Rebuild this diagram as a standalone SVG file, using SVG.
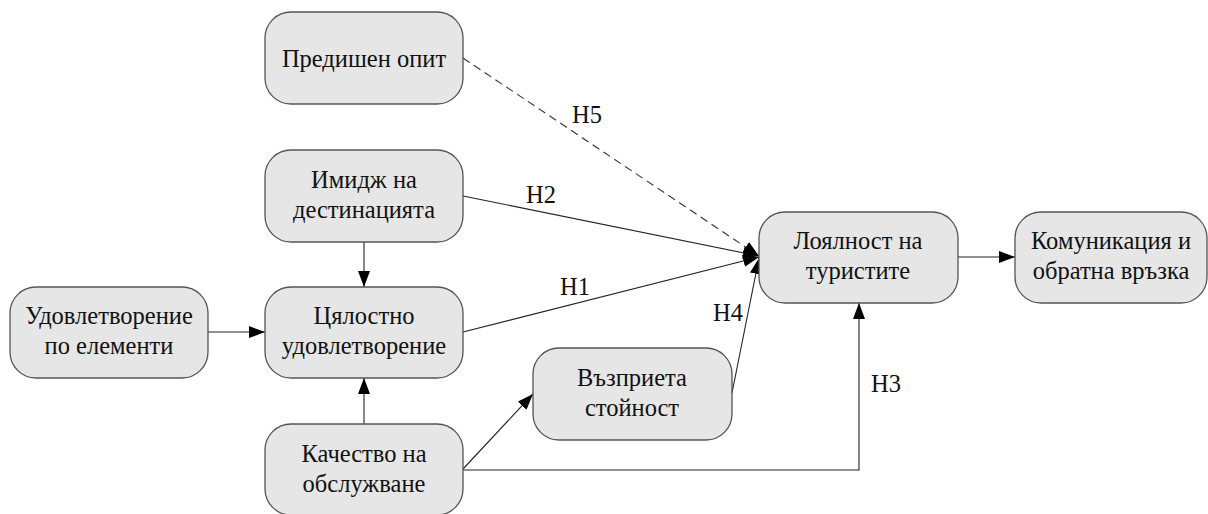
<svg xmlns="http://www.w3.org/2000/svg" width="1208" height="514" viewBox="0 0 1208 514">
<style>
.box{fill:#e6e6e6;stroke:#555;stroke-width:1.3}
.t{font-family:'Liberation Serif','DejaVu Serif','Times New Roman',serif;font-size:24.5px;fill:#111;text-anchor:middle}
.c{fill:none;stroke:#222;stroke-width:1.1}
.d{stroke-dasharray:8 5;stroke:#333}
</style>
<defs>
<marker id="ah" markerUnits="userSpaceOnUse" markerWidth="17" markerHeight="12" refX="16" refY="6" orient="auto">
<path d="M0,0 L16,6 L0,12 z" fill="#000"/>
</marker>
</defs>
<rect width="1208" height="514" fill="#fff"/>
<g id="connectors">
<line class="c d" x1="463" y1="58" x2="759" y2="256" marker-end="url(#ah)"/>
<line class="c" x1="463" y1="196" x2="759" y2="256" marker-end="url(#ah)"/>
<line class="c" x1="463" y1="332" x2="759" y2="257" marker-end="url(#ah)"/>
<line class="c" x1="732" y1="393" x2="759" y2="258" marker-end="url(#ah)"/>
<line class="c" x1="364" y1="242" x2="364" y2="287" marker-end="url(#ah)"/>
<line class="c" x1="208" y1="332" x2="265" y2="332" marker-end="url(#ah)"/>
<line class="c" x1="364" y1="424" x2="364" y2="378" marker-end="url(#ah)"/>
<line class="c" x1="463" y1="469" x2="533" y2="394" marker-end="url(#ah)"/>
<polyline class="c" points="463,470 859,470 859,303" marker-end="url(#ah)"/>
<line class="c" x1="958" y1="257" x2="1015" y2="257" marker-end="url(#ah)"/>
<text class="t" x="587" y="123">H5</text>
<text class="t" x="541" y="203">H2</text>
<text class="t" x="575" y="295">H1</text>
<text class="t" x="728" y="321">H4</text>
<text class="t" x="886" y="392">H3</text>
</g>
<g id="n-predishen">
<rect class="box" x="265" y="12" width="198" height="92" rx="26"/>
<text class="t" x="364" y="67">Предишен опит</text>
</g>
<g id="n-imidzh">
<rect class="box" x="265" y="150" width="198" height="92" rx="26"/>
<text class="t" x="364" y="188">Имидж на</text>
<text class="t" x="364" y="218">дестинацията</text>
</g>
<g id="n-udovl-el">
<rect class="box" x="10" y="287" width="198" height="91" rx="26"/>
<text class="t" x="109" y="324">Удовлетворение</text>
<text class="t" x="109" y="354">по елементи</text>
</g>
<g id="n-tsyalostno">
<rect class="box" x="265" y="287" width="198" height="91" rx="26"/>
<text class="t" x="364" y="324">Цялостно</text>
<text class="t" x="364" y="354">удовлетворение</text>
</g>
<g id="n-kachestvo">
<rect class="box" x="265" y="424" width="198" height="91" rx="26"/>
<text class="t" x="364" y="462">Качество на</text>
<text class="t" x="364" y="492">обслужване</text>
</g>
<g id="n-vazprieta">
<rect class="box" x="533" y="348" width="199" height="92" rx="26"/>
<text class="t" x="632" y="386">Възприета</text>
<text class="t" x="632" y="416">стойност</text>
</g>
<g id="n-loyalnost">
<rect class="box" x="759" y="212" width="199" height="91" rx="26"/>
<text class="t" x="858" y="249">Лоялност на</text>
<text class="t" x="858" y="279">туристите</text>
</g>
<g id="n-komunikatsia">
<rect class="box" x="1015" y="212" width="192" height="91" rx="26"/>
<text class="t" x="1111" y="249">Комуникация и</text>
<text class="t" x="1111" y="279">обратна връзка</text>
</g>
</svg>
